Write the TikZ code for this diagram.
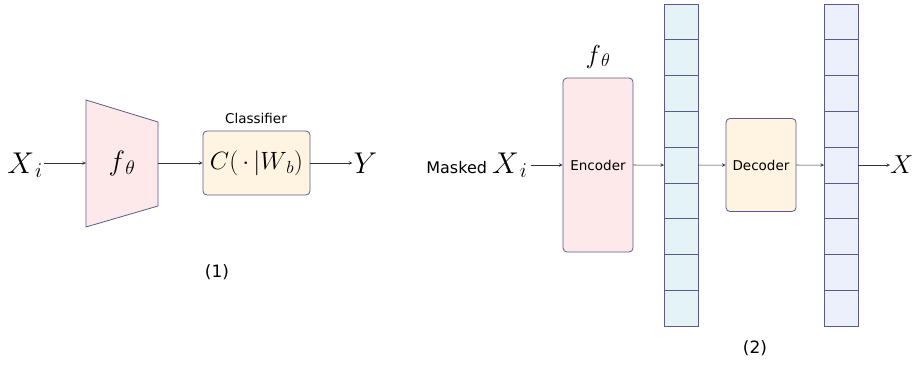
\RequirePackage{fix-cm}
\documentclass[tikz,border=0pt]{standalone}
\usepackage[no-math]{fontspec}
\setmainfont{DejaVu Sans}
\usetikzlibrary{arrows,positioning}

\definecolor{edgeblue}{RGB}{88,92,140}
\definecolor{pinkfill}{RGB}{253,233,233}
\definecolor{creamfill}{RGB}{255,243,225}
\definecolor{cyanfill}{RGB}{227,243,246}
\definecolor{lilacfill}{RGB}{236,239,252}

\begin{document}
\begin{tikzpicture}[x=1pt, y=-1pt,
        block/.style={draw=edgeblue, line width=0.8pt, rounded corners=4pt, align=center, font=\fontsize{13.5}{16}\selectfont},
        cellA/.style={draw=edgeblue, line width=0.9pt, fill=cyanfill, minimum width=34pt, minimum height=35.8pt, inner sep=0pt, outer sep=0pt},
        cellB/.style={cellA, fill=lilacfill},
        bigmath/.style={font=\fontsize{30}{36}\selectfont, inner sep=1pt},
        caption/.style={font=\fontsize{17}{20}\selectfont},
        arrow/.style={->, >=stealth, line width=0.6pt, draw=black!80}]

    \useasboundingbox (0,0) rectangle (914,370);

    % (1) encoder + classifier
    \draw[draw=edgeblue, fill=pinkfill, line width=0.8pt] (86,100) -- (158,122) -- (158,206) -- (86,227) -- cycle;
    \coordinate (trapL) at (86,163);
    \coordinate (trapR) at (158,163);

    \node[bigmath] (xin) at (25,165) {$X_{\,i}$};
    \node[font=\fontsize{28}{34}\selectfont] (fenc) at (122,163) {$f_{\,\theta}$};
    \node[block, fill=creamfill, minimum width=107pt, minimum height=64pt, font=\fontsize{25}{30}\selectfont] (cls) at (256.5,163) {$C(\,\cdot\,|W_{\,b})$};
    \node[font=\fontsize{13.5}{16}\selectfont] (clsname) at (256,118) {Classifier};
    \node[bigmath, right=42pt of cls] (yout) {$Y$};

    \draw[arrow] (xin.east |- trapL) -- (trapL);
    \draw[arrow] (trapR) -- (cls.west |- trapR);
    \draw[arrow] (cls.east) -- (yout.west |- cls.east);

    \node[caption] (capA) at (217,272) {(1)};

    % (2) masked autoencoder
    \node[font=\fontsize{16}{19}\selectfont, anchor=east] (masked) at (531,165) {Masked \fontsize{30}{36}\selectfont$X_{\,i}$};
    \node[block, fill=pinkfill, minimum width=70pt, minimum height=174pt] (enc) at (598,165) {Encoder};
    \node[font=\fontsize{26}{31}\selectfont, above=6pt of enc] (ftop) {$f_{\,\theta}$};

    \foreach \i in {1,...,9} {
        \node[cellA] (za\i) at (681, {4+35.8*(\i-0.5)}) {};
        \node[cellB] (zb\i) at (841, {4+35.8*(\i-0.5)}) {};
    }

    \node[block, fill=creamfill, minimum width=70pt, minimum height=93pt] (dec) at (761,165) {Decoder};
    \node[font=\fontsize{26}{31}\selectfont, inner sep=0pt, anchor=west] (xout) at (890,165) {$X$};

    \draw[arrow] (masked.east |- enc) -- (enc.west);
    \draw[arrow] (enc) -- (za5);
    \draw[arrow] (za5) -- (dec);
    \draw[arrow] (dec) -- (zb5);
    \draw[arrow] (zb5) -- (xout.west |- zb5);

    \node[caption] (capB) at (755,348) {(2)};
\end{tikzpicture}
\end{document}
